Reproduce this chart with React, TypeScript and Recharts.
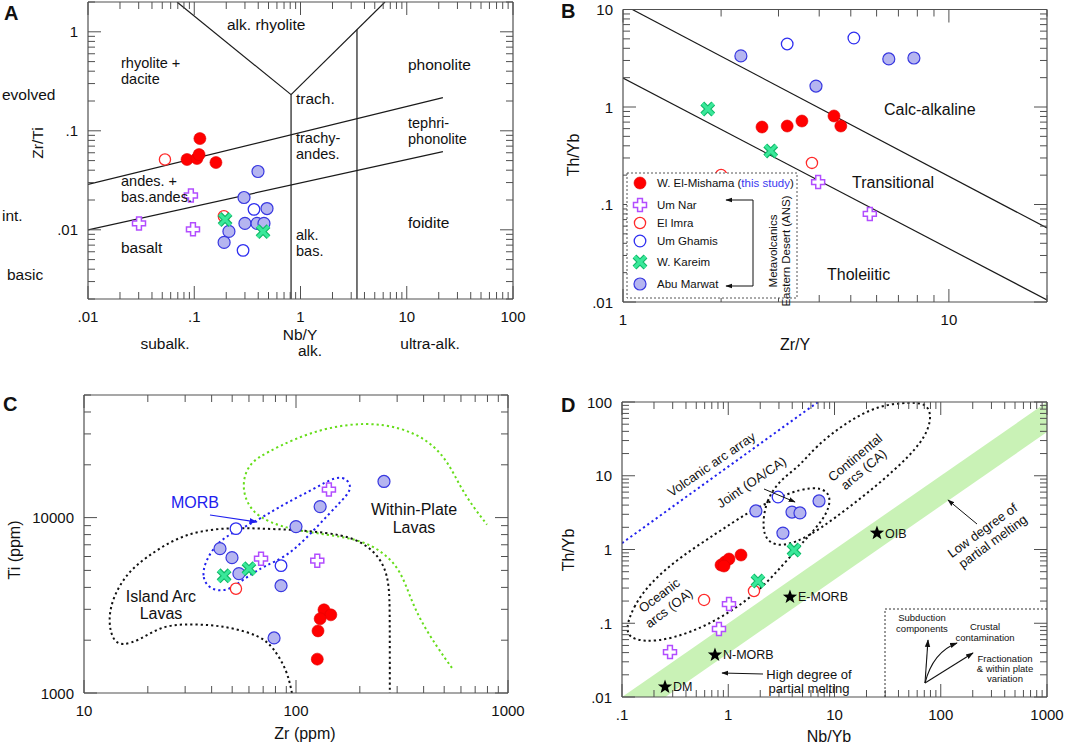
import React from "react";
import { ComposedChart, Scatter, Line, Area, XAxis, YAxis } from "recharts";

const FONT = '"Liberation Sans", Arial, Helvetica, sans-serif';
const FRAME = "#505050";

type P = [number, number];

// ---------- Panel A: Zr/Ti vs Nb/Y ----------
const A_MISHAMA: P[] = [[0.0855, 0.0513], [0.106, 0.0525], [0.111, 0.0575], [0.113, 0.0834], [0.16, 0.0478]];
const A_UM_NAR: P[] = [[0.093, 0.0222], [0.0302, 0.0116], [0.0973, 0.0101]];
const A_EL_IMRA: P[] = [[0.053, 0.0513], [0.19, 0.0137]];
const A_UM_GHAMIS: P[] = [[0.365, 0.0161], [0.288, 0.0062]];
const A_KAREIM: P[] = [[0.195, 0.0127], [0.444, 0.0096]];
const A_ABU_MARWAT: P[] = [[0.398, 0.0388], [0.294, 0.0212], [0.484, 0.0164], [0.3, 0.0116], [0.39, 0.0116], [0.453, 0.0116], [0.212, 0.00964], [0.191, 0.00746]];
const A_BOUNDARIES: P[][] = [
  [[0.01, 0.0287], [21.9, 0.216]],
  [[0.01, 0.01], [21.9, 0.0617]],
  [[0.0688, 2], [0.815, 0.232]],
  [[0.815, 0.232], [6.24, 2]],
  [[0.815, 0.232], [0.815, 0.002]],
  [[3.4, 1.05], [3.4, 0.002]],
];
const A_X_MAJOR = [0.01, 0.1, 1, 10, 100];
const A_X_LABELS = [".01", ".1", "1", "10", "100"];
const A_Y_MAJOR = [0.01, 0.1, 1];
const A_Y_LABELS = [".01", ".1", "1"];

// ---------- Panel B: Th/Yb vs Zr/Y ----------
const B_MISHAMA: P[] = [[2.67, 0.623], [3.19, 0.638], [3.54, 0.718], [4.44, 0.809], [4.66, 0.638]];
const B_UM_NAR: P[] = [[3.97, 0.17], [5.72, 0.08]];
const B_EL_IMRA: P[] = [[2.0, 0.201], [3.8, 0.267]];
const B_UM_GHAMIS: P[] = [[3.19, 4.43], [5.11, 5.1]];
const B_KAREIM: P[] = [[1.82, 0.954], [2.84, 0.354]];
const B_ABU_MARWAT: P[] = [[2.3, 3.34], [3.91, 1.64], [6.54, 3.11], [7.81, 3.18]];
const B_BOUNDARIES: P[][] = [
  [[1.068, 10], [20, 0.0574]],
  [[1, 1.98], [20, 0.0105]],
];
const B_X_MAJOR = [1, 10];
const B_X_LABELS = ["1", "10"];
const B_Y_MAJOR = [0.01, 0.1, 1, 10];
const B_Y_LABELS = [".01", ".1", "1", "10"];

// ---------- Panel C: Ti vs Zr ----------
const C_MISHAMA: P[] = [[135.5, 2980], [146, 2790], [130, 2650], [127, 2260], [126, 1560]];
const C_UM_NAR: P[] = [[68.4, 5830], [143, 14450], [126, 5680]];
const C_EL_IMRA: P[] = [[52.1, 3930]];
const C_UM_GHAMIS: P[] = [[52.1, 8650], [85, 5320]];
const C_KAREIM: P[] = [[45.8, 4660], [60, 5110]];
const C_ABU_MARWAT: P[] = [[43.8, 6650], [49.9, 5910], [53.8, 4790], [100, 8890], [130, 11560], [260, 16070], [85, 4090], [78.8, 2060]];
const C_ISLAND_ARC: P[] = [[95.7, 1000], [90.7, 1353], [77.9, 1832], [67.6, 2117], [50.4, 2350], [39.3, 2446], [29.3, 2479], [22.8, 2383], [18.4, 2009], [15.1, 1856], [13.6, 2009], [13.0, 2612], [13.7, 3536], [16.0, 4850], [19.8, 5985], [26.3, 7486], [35.2, 8430], [50.4, 8770], [67.6, 8650], [96.8, 8540], [140, 8210], [186, 7690], [231, 6560], [263, 5250], [275, 4030], [277, 2980], [277, 1000]];
const C_WITHIN_PLATE: P[] = [[544, 1390], [462, 1832], [385, 2612], [345, 3536], [310, 5045], [257, 6390], [200, 7486], [140, 7990], [96.8, 8540], [75.4, 9360], [62.7, 10680], [56.9, 13180], [56.2, 16490], [60.7, 20620], [73, 23520], [96.8, 27900], [140, 32700], [216, 34900], [310, 32700], [415, 27900], [515, 21440], [594, 15030], [684, 11560], [796, 9120]];
const C_MORB: P[] = [[37.2, 5600], [36.0, 4540], [39.3, 3880], [47.3, 3780], [56.2, 4430], [69.9, 5250], [78, 5530], [96.8, 6390], [126, 8890], [161, 12180], [184, 14450], [176, 16490], [156, 17380], [120, 14450], [90.7, 12180], [75.4, 10680], [62.7, 9360], [50.4, 8210], [42.4, 7200]];
const C_X_MAJOR = [10, 100, 1000];
const C_X_LABELS = ["10", "100", "1000"];
const C_Y_MAJOR = [1000, 10000];
const C_Y_LABELS = ["1000", "10000"];

// ---------- Panel D: Th/Yb vs Nb/Yb ----------
const D_MISHAMA: P[] = [[0.855, 0.616], [0.931, 0.676], [1.016, 0.743], [1.318, 0.841], [0.912, 0.597]];
const D_UM_NAR: P[] = [[1.016, 0.182], [0.818, 0.0836], [0.283, 0.0407]];
const D_EL_IMRA: P[] = [[0.592, 0.207], [1.747, 0.274]];
const D_UM_GHAMIS: P[] = [[2.94, 5.15]];
const D_KAREIM: P[] = [[1.905, 0.374], [4.16, 0.984]];
const D_ABU_MARWAT: P[] = [[1.82, 3.33], [3.98, 3.22], [4.73, 3.13], [3.27, 1.67], [7.15, 4.55]];
const D_REF_NAMES = ["DM", "N-MORB", "E-MORB", "OIB"];
const D_REF_VALUES: P[] = [[0.254, 0.0137], [0.75, 0.0372], [3.81, 0.227], [25.1, 1.67]];
const D_BAND_X = [0.1, 0.256, 1000];
const D_BAND_LOW = [0.01, 0.01, 39.2];
const D_BAND_HIGH = [0.01, 0.0256, 100];
const D_ARC_ARRAY: P[] = [[0.1, 1.22], [7.0, 100]];
const D_OCEANIC: P[] = [[0.107, 0.081], [0.127, 0.166], [0.183, 0.352], [0.352, 0.791], [0.783, 1.67], [1.5, 3.13], [2.75, 4.84], [4.73, 6.61], [7.62, 7.04], [9.47, 5.15], [8.32, 2.76], [5.28, 1.35], [3.27, 0.616], [1.87, 0.257], [0.894, 0.122], [0.437, 0.0738], [0.213, 0.0557], [0.124, 0.0593]];
const D_CONTINENTAL: P[] = [[2.08, 2.02], [2.27, 4.69], [3.07, 8.76], [4.73, 13.6], [6.55, 24.5], [12.6, 51.9], [25.7, 91], [53.6, 100], [75.9, 94], [82.8, 57], [66.6, 27.8], [37.1, 12.0], [19.4, 5.48], [10.1, 2.67], [5.63, 1.48], [3.27, 1.08], [2.32, 1.26]];
const D_X_MAJOR = [0.1, 1, 10, 100, 1000];
const D_X_LABELS = [".1", "1", "10", "100", "1000"];
const D_Y_MAJOR = [0.01, 0.1, 1, 10, 100];
const D_Y_LABELS = [".01", ".1", "1", "10", "100"];

// ---------- helpers ----------
const rows = (pts: P[]) => pts.map(([x, y]) => ({ x, y }));

function logTicks(min: number, max: number) {
  const out: number[] = [];
  for (let e = Math.floor(Math.log10(min)); e <= Math.ceil(Math.log10(max)); e++) {
    for (let m = 1; m < 10; m++) {
      const v = Number((m * Math.pow(10, e)).toPrecision(6));
      if (v >= min * 0.9999 && v <= max * 1.0001) out.push(v);
    }
  }
  return out;
}

const isDecade = (v: number) => {
  const l = Math.log10(v);
  return Math.abs(l - Math.round(l)) < 1e-6;
};

type Side = "bottom" | "top" | "left" | "right";

function tickFor(side: Side, major: number[] | null, labels: string[] | null) {
  return (props: any) => {
    const { x, y, payload } = props;
    const v = payload.value;
    const len = isDecade(v) ? 13 : 7;
    let x2 = x;
    let y2 = y;
    if (side === "bottom") y2 = y - len;
    if (side === "top") y2 = y + len;
    if (side === "left") x2 = x + len;
    if (side === "right") x2 = x - len;
    let label: string | undefined;
    if (major && labels) {
      const i = major.findIndex((m) => Math.abs(m - v) / m < 1e-6);
      if (i >= 0) label = labels[i];
    }
    return (
      <g>
        <line x1={x} y1={y} x2={x2} y2={y2} stroke={FRAME} strokeWidth={1} />
        {label && side === "bottom" && (
          <text x={x} y={y + 23} textAnchor="middle" fontSize={15} fontFamily={FONT} fill="#111">
            {label}
          </text>
        )}
        {label && side === "left" && (
          <text x={x - 10} y={y + 5.5} textAnchor="end" fontSize={15} fontFamily={FONT} fill="#111">
            {label}
          </text>
        )}
      </g>
    );
  };
}

function frameAxes(
  xDomain: [number, number],
  yDomain: [number, number],
  xMajor: number[],
  xLabels: string[],
  yMajor: number[],
  yLabels: string[],
  yWidth: number
) {
  const xTicks = logTicks(xDomain[0], xDomain[1]);
  const yTicks = logTicks(yDomain[0], yDomain[1]);
  const common = {
    type: "number" as const,
    scale: "log" as const,
    allowDataOverflow: true,
    interval: 0 as const,
    tickSize: 0,
    tickMargin: 0,
    tickLine: false,
    axisLine: { stroke: FRAME, strokeWidth: 1.2 },
  };
  return [
    <XAxis key="xb" {...common} dataKey="x" domain={xDomain} ticks={xTicks} height={20} tick={tickFor("bottom", xMajor, xLabels)} />,
    <XAxis key="xt" {...common} xAxisId="t" orientation="top" dataKey="x" domain={xDomain} ticks={xTicks} height={1} tick={tickFor("top", null, null)} />,
    <YAxis key="yl" {...common} dataKey="y" domain={yDomain} ticks={yTicks} width={yWidth} tick={tickFor("left", yMajor, yLabels)} />,
    <YAxis key="yr" {...common} yAxisId="r" orientation="right" dataKey="y" domain={yDomain} ticks={yTicks} width={1} tick={tickFor("right", null, null)} />,
  ];
}

// ---------- markers ----------
function plusPath(cx: number, cy: number, s = 6.5, w = 2.4) {
  const p = [
    [-w, -s], [w, -s], [w, -w], [s, -w], [s, w], [w, w], [w, s], [-w, s], [-w, w], [-s, w], [-s, -w], [-w, -w],
  ];
  return "M" + p.map(([a, b]) => `${cx + a},${cy + b}`).join("L") + "Z";
}

function starPath(cx: number, cy: number, R = 7.5, r = 3.1) {
  const pts: string[] = [];
  for (let i = 0; i < 10; i++) {
    const rad = i % 2 === 0 ? R : r;
    const a = -Math.PI / 2 + (i * Math.PI) / 5;
    pts.push(`${cx + rad * Math.cos(a)},${cy + rad * Math.sin(a)}`);
  }
  return "M" + pts.join("L") + "Z";
}

const Mishama = (p: any) => <circle cx={p.cx} cy={p.cy} r={6} fill="#ff0000" stroke="#e00000" strokeWidth={0.6} />;
const UmNar = (p: any) => <path d={plusPath(p.cx, p.cy)} fill="#fff" stroke="#b24dff" strokeWidth={1.5} />;
const ElImra = (p: any) => <circle cx={p.cx} cy={p.cy} r={5.6} fill="#fff" stroke="#ff2a2a" strokeWidth={1.3} />;
const UmGhamis = (p: any) => <circle cx={p.cx} cy={p.cy} r={5.8} fill="#fff" stroke="#2f2ff0" strokeWidth={1.3} />;
const AbuMarwat = (p: any) => <circle cx={p.cx} cy={p.cy} r={6} fill="#b5b5f0" stroke="#3838e0" strokeWidth={1.2} />;
const Kareim = (p: any) => {
  const d = 5.5;
  const path = `M${p.cx - d},${p.cy - d}L${p.cx + d},${p.cy + d}M${p.cx + d},${p.cy - d}L${p.cx - d},${p.cy + d}`;
  return (
    <g>
      <path d={path} stroke="#10b868" strokeWidth={5.4} strokeLinecap="butt" />
      <path d={path} stroke="#3ae89a" strokeWidth={3.2} strokeLinecap="butt" />
    </g>
  );
};
const RefStar = (p: any) => (
  <g>
    <path d={starPath(p.cx, p.cy)} fill="#000" />
    <text x={p.cx + 8} y={p.cy + 4.5} fontSize={12.5} fontFamily={FONT} fill="#111">
      {p.payload.name}
    </text>
  </g>
);

function sampleSeries(set: { g: P[]; ng: P[]; ei: P[]; ug: P[]; k: P[]; am: P[] }) {
  return [
    <Scatter key="ug" data={rows(set.ug)} shape={UmGhamis} isAnimationActive={false} />,
    <Scatter key="am" data={rows(set.am)} shape={AbuMarwat} isAnimationActive={false} />,
    <Scatter key="ei" data={rows(set.ei)} shape={ElImra} isAnimationActive={false} />,
    <Scatter key="ng" data={rows(set.ng)} shape={UmNar} isAnimationActive={false} />,
    <Scatter key="g" data={rows(set.g)} shape={Mishama} isAnimationActive={false} />,
    <Scatter key="k" data={rows(set.k)} shape={Kareim} isAnimationActive={false} />,
  ];
}

function boundary(key: string, pts: P[], stroke: string, opts: { dash?: string; width?: number; curve?: any } = {}) {
  return (
    <Line
      key={key}
      data={rows(pts)}
      dataKey="y"
      type={opts.curve || "linear"}
      stroke={stroke}
      strokeWidth={opts.width || 1.2}
      strokeDasharray={opts.dash}
      dot={false}
      activeDot={false}
      isAnimationActive={false}
      legendType="none"
    />
  );
}

const DOT = "2.2 3";

function Box({ left, top, children }: { left: number; top: number; children: React.ReactNode }) {
  return <div style={{ position: "absolute", left, top }}>{children}</div>;
}

function PanelA() {
  return (
    <Box left={0} top={0}>
      <ComposedChart width={530} height={360} margin={{ top: 1, right: 16, bottom: 41, left: 0 }}>
        {frameAxes([0.01, 100], [0.002, 2], A_X_MAJOR, A_X_LABELS, A_Y_MAJOR, A_Y_LABELS, 88)}
        {A_BOUNDARIES.map((b, i) => boundary("a" + i, b, "#1a1a1a"))}
        {sampleSeries({ g: A_MISHAMA, ng: A_UM_NAR, ei: A_EL_IMRA, ug: A_UM_GHAMIS, k: A_KAREIM, am: A_ABU_MARWAT })}
      </ComposedChart>
    </Box>
  );
}

function PanelB() {
  return (
    <Box left={530} top={0}>
      <ComposedChart width={535} height={360} margin={{ top: 8.5, right: 17, bottom: 38, left: 0 }}>
        {frameAxes([1, 20], [0.01, 10], B_X_MAJOR, B_X_LABELS, B_Y_MAJOR, B_Y_LABELS, 93)}
        {B_BOUNDARIES.map((b, i) => boundary("b" + i, b, "#1a1a1a"))}
        {sampleSeries({ g: B_MISHAMA, ng: B_UM_NAR, ei: B_EL_IMRA, ug: B_UM_GHAMIS, k: B_KAREIM, am: B_ABU_MARWAT })}
      </ComposedChart>
    </Box>
  );
}

function PanelC() {
  return (
    <Box left={0} top={370}>
      <ComposedChart width={530} height={376} margin={{ top: 24, right: 21, bottom: 33, left: 0 }}>
        {frameAxes([10, 1000], [1000, 50000], C_X_MAJOR, C_X_LABELS, C_Y_MAJOR, C_Y_LABELS, 84)}
        {boundary("wpl", C_WITHIN_PLATE, "#66dd1a", { dash: DOT, width: 2, curve: "basis" })}
        {boundary("iab", C_ISLAND_ARC, "#111", { dash: DOT, width: 2, curve: "basis" })}
        {boundary("morb", C_MORB, "#2020ee", { dash: DOT, width: 2, curve: "basisClosed" })}
        {sampleSeries({ g: C_MISHAMA, ng: C_UM_NAR, ei: C_EL_IMRA, ug: C_UM_GHAMIS, k: C_KAREIM, am: C_ABU_MARWAT })}
      </ComposedChart>
    </Box>
  );
}

function PanelD() {
  const band = D_BAND_X.map((x, i) => ({ x, band: [D_BAND_LOW[i], D_BAND_HIGH[i]] }));
  const refs = D_REF_VALUES.map(([x, y], i) => ({ x, y, name: D_REF_NAMES[i] }));
  return (
    <Box left={530} top={370}>
      <ComposedChart width={535} height={376} margin={{ top: 31, right: 17, bottom: 29, left: 0 }}>
        {frameAxes([0.1, 1000], [0.01, 100], D_X_MAJOR, D_X_LABELS, D_Y_MAJOR, D_Y_LABELS, 92)}
        <Area data={band} dataKey="band" type="linear" stroke="none" fill="#c9f2b6" fillOpacity={1} dot={false} activeDot={false} isAnimationActive={false} />
        {boundary("arc", D_ARC_ARRAY, "#2222ee", { dash: DOT, width: 2 })}
        {boundary("oa", D_OCEANIC, "#111", { dash: DOT, width: 2, curve: "basisClosed" })}
        {boundary("ca", D_CONTINENTAL, "#111", { dash: DOT, width: 2, curve: "basisClosed" })}
        <Scatter data={refs} shape={RefStar} isAnimationActive={false} />
        {sampleSeries({ g: D_MISHAMA, ng: D_UM_NAR, ei: D_EL_IMRA, ug: D_UM_GHAMIS, k: D_KAREIM, am: D_ABU_MARWAT })}
      </ComposedChart>
    </Box>
  );
}

// ---------- annotation overlay ----------
// Multi-line labels are one <text> with stacked tspans.
function T(props: {
  x: number;
  y: number;
  s?: number;
  a?: "start" | "middle" | "end";
  r?: number;
  w?: number | string;
  c?: string;
  lh?: number;
  dx2?: number;
  lines: string[];
}) {
  const { x, y, s = 15.5, a = "start", r, w, c = "#111", lh = 13, dx2 = 0, lines } = props;
  return (
    <text
      x={x}
      y={y}
      fontSize={s}
      textAnchor={a}
      fontFamily={FONT}
      fontWeight={w}
      fill={c}
      transform={r ? `rotate(${r} ${x} ${y})` : undefined}
    >
      {lines.map((l, i) => (
        <tspan key={i} x={x + (i > 0 ? dx2 : 0)} dy={i === 0 ? 0 : lh}>
          {l}
        </tspan>
      ))}
    </text>
  );
}

function Overlay() {
  const legendY = [183, 205, 223, 241, 262, 284];
  const legendNames = ["", "Um Nar", "El Imra", "Um Ghamis", "W. Kareim", "Abu Marwat"];
  const icons = [Mishama, UmNar, ElImra, UmGhamis, Kareim, AbuMarwat];
  return (
    <svg width={1065} height={746} style={{ position: "absolute", left: 0, top: 0, pointerEvents: "none" }}>
      <defs>
        <marker id="arr" viewBox="0 0 10 10" refX="9" refY="5" markerWidth="7" markerHeight="7" orient="auto-start-reverse">
          <path d="M0,1.5L10,5L0,8.5Z" fill="#111" />
        </marker>
        <marker id="arrB" viewBox="0 0 10 10" refX="9" refY="5" markerWidth="7" markerHeight="7" orient="auto-start-reverse">
          <path d="M0,1.5L10,5L0,8.5Z" fill="#2020ee" />
        </marker>
      </defs>

      {/* Panel letters */}
      <T x={4} y={20} s={20} w="bold" lines={["A"]} />
      <T x={561} y={18} s={20} w="bold" lines={["B"]} />
      <T x={3} y={411} s={20} w="bold" lines={["C"]} />
      <T x={561} y={412} s={20} w="bold" lines={["D"]} />

      {/* Panel A */}
      <T x={227} y={30} lines={["alk. rhyolite"]} />
      <T x={121} y={68} s={14.5} lh={16} lines={["rhyolite +", "dacite"]} />
      <T x={2} y={100} lines={["evolved"]} />
      <T x={121} y={186} s={14.5} lh={16} lines={["andes. +", "bas.andes."]} />
      <T x={2} y={221} lines={["int."]} />
      <T x={121} y={253} lines={["basalt"]} />
      <T x={7} y={280} lines={["basic"]} />
      <T x={296} y={104} lines={["trach."]} />
      <T x={296} y={143} s={14.5} lh={16} lines={["trachy-", "andes."]} />
      <T x={296} y={240} s={14.5} lh={16} lines={["alk.", "bas."]} />
      <T x={408} y={70} lines={["phonolite"]} />
      <T x={408} y={128} s={14.5} lh={16} lines={["tephri-", "phonolite"]} />
      <T x={408} y={228} lines={["foidite"]} />
      <T x={43} y={143} a="middle" r={-90} lines={["Zr/Ti"]} />
      <T x={165} y={349} a="middle" lines={["subalk."]} />
      <T x={300} y={340} a="middle" lh={16} dx2={10} lines={["Nb/Y", "alk."]} />
      <T x={430} y={349} a="middle" lines={["ultra-alk."]} />

      {/* Panel B */}
      <T x={884} y={115} s={16} lines={["Calc-alkaline"]} />
      <T x={852} y={188} s={16} lines={["Transitional"]} />
      <T x={827} y={280} s={16} lines={["Tholeiitic"]} />
      <T x={579} y={155} s={16} a="middle" r={-90} lines={["Th/Yb"]} />
      <T x={795} y={350} s={16} a="middle" lines={["Zr/Y"]} />
      <rect x={627} y={173} width={170} height={125} fill="#fff" stroke="#555" strokeWidth={1} strokeDasharray="2 2" />
      {icons.map((Icon, i) => (
        <g key={i}>{Icon({ cx: 640, cy: legendY[i] })}</g>
      ))}
      <text x={657} y={187} fontSize={11.5} fontFamily={FONT} fill="#111">
        W. El-Mishama (<tspan fill="#3a3af0">this study</tspan>)
      </text>
      {legendNames.map((n, i) =>
        i === 0 ? null : <T key={n} x={657} y={legendY[i] + 4} s={11.5} lines={[n]} />
      )}
      <path d="M753,200L753,286" stroke="#111" strokeWidth={1} fill="none" />
      <path d="M753,200L726,200" stroke="#111" strokeWidth={1} markerEnd="url(#arr)" />
      <path d="M753,286L726,286" stroke="#111" strokeWidth={1} markerEnd="url(#arr)" />
      <T x={777} y={251} s={11.5} a="middle" r={-90} lines={["Metavolcanics", "Eastern Desert (ANS)"]} />

      {/* Panel C */}
      <T x={195} y={508} s={16} a="middle" c="#2020ee" lines={["MORB"]} />
      <path d="M210,515L257,522" stroke="#2020ee" strokeWidth={1.2} markerEnd="url(#arrB)" />
      <T x={161} y={602} s={16} a="middle" lh={17} lines={["Island Arc", "Lavas"]} />
      <T x={414} y={515} s={16} a="middle" lh={18} lines={["Within-Plate", "Lavas"]} />
      <T x={20} y={550} s={16} a="middle" r={-90} lines={["Ti (ppm)"]} />
      <T x={305} y={739} s={16} a="middle" lines={["Zr (ppm)"]} />

      {/* Panel D */}
      <T x={574} y={550} s={16} a="middle" r={-90} lines={["Th/Yb"]} />
      <T x={829} y={742} s={16} a="middle" lines={["Nb/Yb"]} />
      <T x={714} y={468} s={13} a="middle" r={-34.5} lines={["Volcanic arc array"]} />
      <T x={754} y={486} s={13} a="middle" r={-34} lines={["Joint (OA/CA)"]} />
      <path d="M764,489L795,502" stroke="#111" strokeWidth={1} markerEnd="url(#arr)" />
      <T x={662} y={599} s={13} a="middle" r={-37} lh={16} lines={["Oceanic", "arcs (OA)"]} />
      <T x={858} y={461} s={13} a="middle" r={-40} lh={14.5} dx2={-1} lines={["Continental", "arcs (CA)"]} />
      <T x={985} y={534} s={13} a="middle" r={-36} lh={15} dx2={2} lines={["Low degree of", "partial melting"]} />
      <path d="M977,524L948,500" stroke="#111" strokeWidth={1} markerEnd="url(#arr)" />
      <T x={809} y={679} s={13} a="middle" lh={14} lines={["High degree of", "partial melting"]} />
      <path d="M763,674L722,673" stroke="#111" strokeWidth={1} markerEnd="url(#arr)" />
      <path d="M885,697L885,609L1047,609" stroke="#333" strokeWidth={1} strokeDasharray="2 2" fill="none" />
      <T x={922} y={621} s={9.5} a="middle" lh={11} lines={["Subduction", "components"]} />
      <T x={985} y={630} s={9.5} a="middle" lh={11} lines={["Crustal", "contamination"]} />
      <T x={1005} y={662} s={9.5} a="middle" lh={10} lines={["Fractionation", "& within plate", "variation"]} />
      <path d="M925,683L928,640" stroke="#111" strokeWidth={1.1} markerEnd="url(#arr)" />
      <path d="M925,683Q933,652 957,643" stroke="#111" strokeWidth={1.1} fill="none" markerEnd="url(#arr)" />
      <path d="M925,683L973,653" stroke="#111" strokeWidth={1.1} markerEnd="url(#arr)" />
    </svg>
  );
}

export default function App() {
  return (
    <div style={{ position: "absolute", left: 0, top: 0, width: 1065, height: 746, background: "#fff", fontFamily: FONT, overflow: "hidden" }}>
      <PanelA />
      <PanelB />
      <PanelC />
      <PanelD />
      <Overlay />
    </div>
  );
}
